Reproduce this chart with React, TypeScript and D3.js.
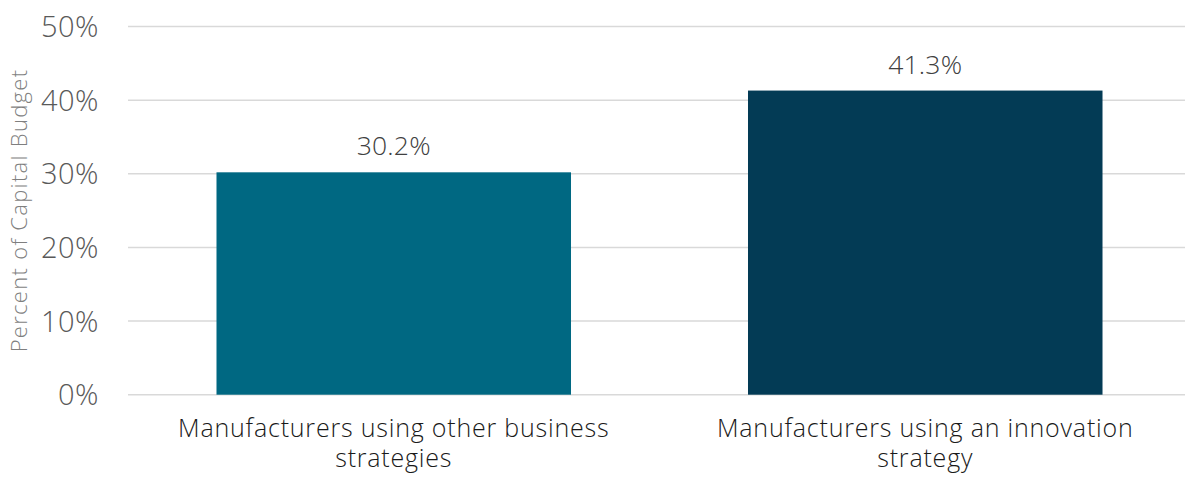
import React from "react";
import * as d3 from "d3";

const categories: string[][] = [
  ["Manufacturers using other business", "strategies"],
  ["Manufacturers using an innovation", "strategy"],
];
const values: number[] = [30.2, 41.3];
const barColors: string[] = ["#006882", "#033B55"];
const yTicks: number[] = [0, 10, 20, 30, 40, 50];
const yTitle = "Percent of Capital Budget";

const W = 1185;
const H = 477;
const FONT = "'Open Sans', 'Noto Sans', sans-serif";

export default function App() {
  const left = 128;
  const top = 26.5;
  const bottom = 394.7;
  const y = d3.scaleLinear().domain([0, 50]).range([bottom, top]);
  const x = d3
    .scaleBand<number>()
    .domain(values.map((_, i) => i))
    .range([left, 1191])
    .paddingInner(0.333)
    .paddingOuter(0.1665);

  return (
    <svg
      width={W}
      height={H}
      style={{ position: "absolute", left: 0, top: 0, background: "#fff" }}
      fontFamily={FONT}
      fontWeight={300}
    >
      {yTicks.map((t) => (
        <g key={t}>
          <line x1={left} x2={W} y1={y(t)} y2={y(t)} stroke="#d9d9d9" strokeWidth={1.5} />
          <text
            x={99}
            y={y(t) + 10.5}
            textAnchor="end"
            fontSize={29}
            letterSpacing={0.5}
            fill="#595959"
          >
            {t}%
          </text>
        </g>
      ))}
      {values.map((v, i) => (
        <g key={i}>
          <rect
            x={x(i)}
            y={y(v)}
            width={x.bandwidth()}
            height={y(0) - y(v)}
            fill={barColors[i]}
          />
          <text
            x={(x(i) as number) + x.bandwidth() / 2}
            y={y(v) - 17}
            textAnchor="middle"
            fontSize={26.5}
            letterSpacing={0.2}
            fill="#404040"
          >
            {d3.format(".1f")(v)}%
          </text>
          {categories[i].map((line, j) => (
            <text
              key={j}
              x={(x(i) as number) + x.bandwidth() / 2}
              y={437 + j * 30}
              textAnchor="middle"
              fontSize={25}
              letterSpacing={0.8}
              fill="#1a1a1a"
            >
              {line}
            </text>
          ))}
        </g>
      ))}
      <text
        transform={`translate(27, 210.5) rotate(-90)`}
        textAnchor="middle"
        fontSize={22}
        letterSpacing={1.3}
        fill="#7f7f7f"
      >
        {yTitle}
      </text>
    </svg>
  );
}
